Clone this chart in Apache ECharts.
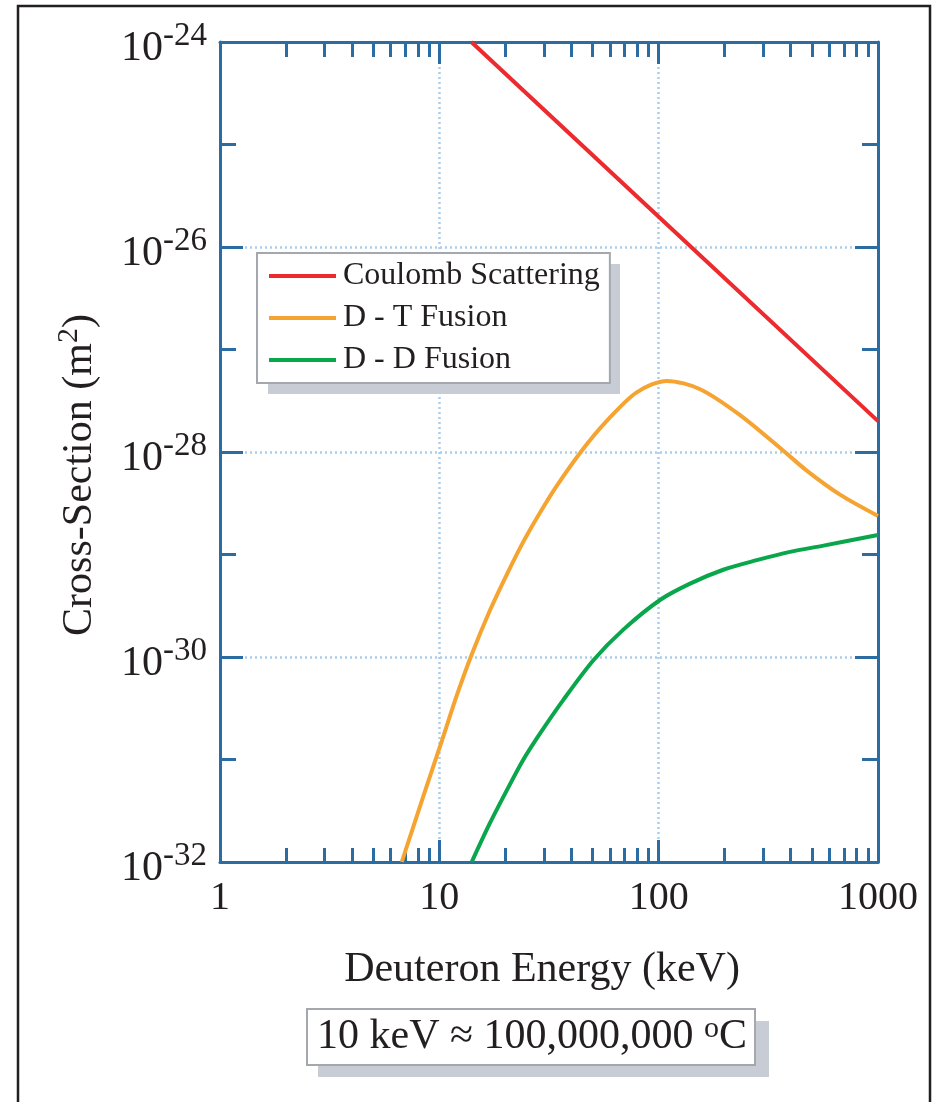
<!DOCTYPE html>
<html>
<head>
<meta charset="utf-8">
<title>Cross-Section vs Deuteron Energy</title>
<script src="https://cdn.jsdelivr.net/npm/echarts@6/dist/echarts.min.js"></script>
<style>
  html, body { margin: 0; padding: 0; background: #fff; }
  #chart { width: 938px; height: 1102px; }
</style>
</head>
<body>
<div id="chart"></div>
<script>
// values: energy in keV, cross-section in m^2
const coulombEnergy = [14, 100, 1000];
const coulombSigma = [1.0e-24, 1.97e-26, 2.0e-28];

const dtEnergy = [6.74, 8.45, 10.3, 12.0, 14.05, 17.0, 20.3, 24.1, 28.8, 34.3, 44.6, 58,
                  79.4, 108.9, 154.5, 235, 370, 473, 671, 1000];
const dtSigma = [1.0e-32, 4.37e-32, 1.55e-31, 4.2e-31, 1.06e-30, 2.84e-30, 6.37e-30, 1.32e-29,
                 2.57e-29, 4.68e-29, 1.03e-28, 2.01e-28, 3.82e-28, 4.94e-28, 4.1e-28, 2.29e-28,
                 1.03e-28, 6.59e-29, 3.84e-29, 2.38e-29];

const ddEnergy = [14.05, 17.0, 20.3, 24.1, 28.8, 36.7, 50.4, 69, 101.4, 139, 197, 280, 397, 564, 1000];
const ddSigma = [1.0e-32, 2.39e-32, 5.0e-32, 9.9e-32, 1.8e-31, 3.8e-31, 9.3e-31, 1.85e-30,
                 3.6e-30, 5.2e-30, 7.1e-30, 8.8e-30, 1.06e-29, 1.22e-29, 1.55e-29];

// tick positions
const xMajorTicks = [1, 10, 100, 1000];
const xMinorTicks = [2, 3, 4, 5, 6, 7, 8, 9, 20, 30, 40, 50, 60, 70, 80, 90,
                     200, 300, 400, 500, 600, 700, 800, 900];
const yMajorTicks = [1e-32, 1e-30, 1e-28, 1e-26, 1e-24];
const yMinorTicks = [1e-31, 1e-29, 1e-27, 1e-25];

// the log axis rounds very small numbers to 0, so plot sigma in units of 1e-32 m^2
const SIGMA_UNIT = 1e-32;
const SIGMA_EXP = -32;
const toUnit = (v) => Number((v / SIGMA_UNIT).toPrecision(10));

const FONT = 'Liberation Serif';
const INK = '#231f20';
const AXIS_BLUE = '#2b6ca3';
const GRID_BLUE = '#a9cdec';
const SHADOW = '#c8ccd4';
const BOX_EDGE = '#a4a8ac';

const pairs = (xs, ys) => xs.map((x, i) => [x, toUnit(ys[i])]);

// extra axes only carry ticks (minor ones, and the mirrored top/right ones)
function tickAxis(position, min, max, ticks, len, showLine) {
  return {
    type: 'log',
    position: position,
    min: min,
    max: max,
    axisLine: { show: !!showLine, onZero: false, lineStyle: { color: AXIS_BLUE, width: 3 } },
    axisTick: { show: true, inside: true, length: len, customValues: ticks,
                lineStyle: { color: AXIS_BLUE, width: 3 } },
    axisLabel: { show: false },
    splitLine: { show: false },
  };
}

const yMin = toUnit(yMajorTicks[0]);
const yMax = toUnit(yMajorTicks[yMajorTicks.length - 1]);

const chart = echarts.init(document.getElementById('chart'));

const options = {
  animation: false,
  grid: { left: 220, top: 42, right: 60, bottom: 240 },
  graphic: [
    {
      type: 'rect',
      silent: true,
      z: -10,
      shape: { x: 18, y: 6, width: 912, height: 1150 },
      style: { fill: 'none', stroke: INK, lineWidth: 2.5 },
    },
    // drop shadows behind the legend and the note box
    {
      type: 'rect',
      silent: true,
      z: 1,
      shape: { x: 268, y: 264, width: 352, height: 130 },
      style: { fill: SHADOW },
    },
    {
      type: 'rect',
      silent: true,
      z: 1,
      shape: { x: 318, y: 1021, width: 451, height: 56 },
      style: { fill: SHADOW },
    },
  ],
  title: {
    text: '10 keV ≈ 100,000,000 {s|o}C',
    left: 307,
    top: 1009,
    padding: [5, 8, 5, 10],
    backgroundColor: '#ffffff',
    borderColor: BOX_EDGE,
    borderWidth: 2,
    textStyle: {
      fontFamily: FONT,
      fontSize: 42,
      fontWeight: 'normal',
      lineHeight: 46,
      color: INK,
      rich: {
        s: { fontFamily: FONT, fontSize: 30, lineHeight: 30, verticalAlign: 'top', color: INK },
      },
    },
  },
  legend: {
    orient: 'vertical',
    left: 257,
    top: 253,
    padding: [5, 10, 5, 12],
    itemWidth: 67,
    itemHeight: 4,
    itemGap: 6,
    icon: 'rect',
    backgroundColor: '#ffffff',
    borderColor: BOX_EDGE,
    borderWidth: 2,
    textStyle: { fontFamily: FONT, fontSize: 32, lineHeight: 36, color: INK, padding: [0, 0, 0, 2] },
    data: ['Coulomb Scattering', 'D - T Fusion', 'D - D Fusion'],
  },
  xAxis: [
    {
      type: 'log',
      position: 'bottom',
      min: 1,
      max: 1000,
      name: 'Deuteron Energy (keV)',
      nameLocation: 'middle',
      nameGap: 87,
      nameTextStyle: { fontFamily: FONT, fontSize: 42, color: INK, padding: [0, 14, 0, 0] },
      axisLine: { show: true, onZero: false, lineStyle: { color: AXIS_BLUE, width: 3 } },
      axisTick: { show: true, inside: true, length: 22, customValues: xMajorTicks,
                  lineStyle: { color: AXIS_BLUE, width: 3 } },
      axisLabel: {
        show: true,
        customValues: xMajorTicks,
        margin: 16,
        fontFamily: FONT,
        fontSize: 40,
        color: INK,
        formatter: (v) => String(Math.round(v)),
      },
      splitLine: { show: true, lineStyle: { color: GRID_BLUE, width: 2.5, type: [2, 3] } },
    },
    tickAxis('bottom', 1, 1000, xMinorTicks, 14),
    tickAxis('top', 1, 1000, xMajorTicks, 22, true),
    tickAxis('top', 1, 1000, xMinorTicks, 15),
  ],
  yAxis: [
    {
      type: 'log',
      position: 'left',
      min: yMin,
      max: yMax,
      name: '{a|Cross-Section (m}{s|2}{a|)}',
      nameLocation: 'middle',
      nameGap: 124,
      nameRotate: 90,
      nameTextStyle: {
        color: INK,
        padding: [0, 46, 0, 0],
        rich: {
          a: { fontFamily: FONT, fontSize: 42, lineHeight: 42, padding: [10, 0, 0, 0], color: INK },
          s: { fontFamily: FONT, fontSize: 30, lineHeight: 36, verticalAlign: 'top', color: INK },
        },
      },
      axisLine: { show: true, onZero: false, lineStyle: { color: AXIS_BLUE, width: 3 } },
      axisTick: { show: true, inside: true, length: 23, customValues: yMajorTicks.map(toUnit),
                  lineStyle: { color: AXIS_BLUE, width: 3 } },
      axisLabel: {
        show: true,
        customValues: yMajorTicks.map(toUnit),
        margin: 13,
        formatter: (v) => '{b|10}{s|' + (Math.round(Math.log10(v)) + SIGMA_EXP) + '}',
        rich: {
          b: { fontFamily: FONT, fontSize: 42, lineHeight: 42, padding: [14, 0, 0, 0], color: INK },
          s: { fontFamily: FONT, fontSize: 33, lineHeight: 44, verticalAlign: 'top', color: INK },
        },
      },
      splitLine: { show: true, lineStyle: { color: GRID_BLUE, width: 2.5, type: [2, 3] } },
    },
    tickAxis('left', yMin, yMax, yMinorTicks.map(toUnit), 16),
    tickAxis('right', yMin, yMax, yMajorTicks.map(toUnit), 23, true),
    tickAxis('right', yMin, yMax, yMinorTicks.map(toUnit), 16),
  ],
  series: [
    {
      name: 'Coulomb Scattering',
      type: 'line',
      data: pairs(coulombEnergy, coulombSigma),
      symbol: 'none',
      lineStyle: { color: '#ed2a2e', width: 4 },
      itemStyle: { color: '#ed2a2e' },
    },
    {
      name: 'D - T Fusion',
      type: 'line',
      smooth: 0.3,
      data: pairs(dtEnergy, dtSigma),
      symbol: 'none',
      lineStyle: { color: '#f5a331', width: 4 },
      itemStyle: { color: '#f5a331' },
    },
    {
      name: 'D - D Fusion',
      type: 'line',
      smooth: 0.3,
      data: pairs(ddEnergy, ddSigma),
      symbol: 'none',
      lineStyle: { color: '#0aa64b', width: 4 },
      itemStyle: { color: '#0aa64b' },
    },
  ],
};

chart.setOption(options);
</script>
</body>
</html>
